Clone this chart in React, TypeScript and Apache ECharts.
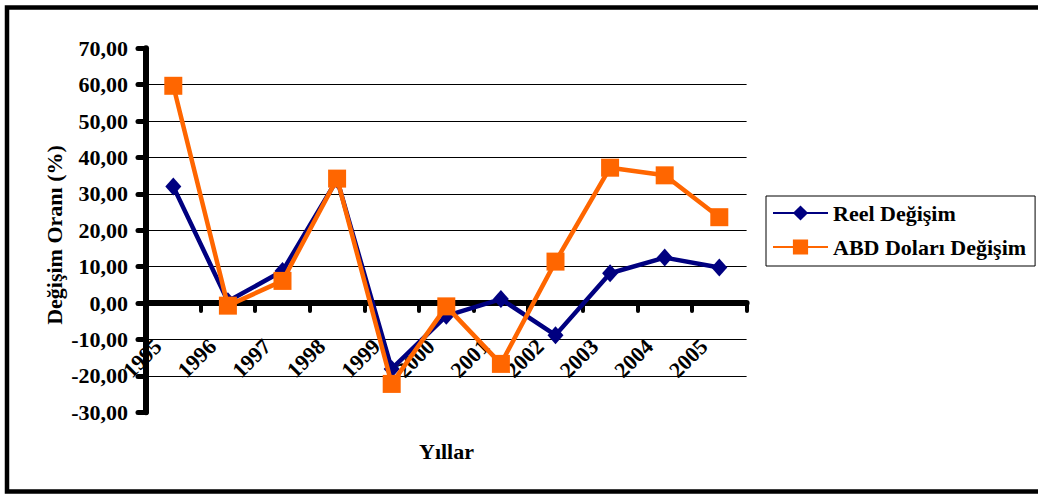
import React, { useEffect, useRef } from "react";
import * as echarts from "echarts";

const years = ["1995", "1996", "1997", "1998", "1999", "2000", "2001", "2002", "2003", "2004", "2005"];
const reelDegisim = [32.0, 0.5, 8.8, 33.9, -18.1, -3.5, 1.1, -8.8, 8.2, 12.5, 9.8];
const abdDolariDegisim = [59.7, -0.7, 6.1, 34.2, -22.2, -0.9, -16.7, 11.4, 37.2, 35.1, 23.6];
const yMin = -30;
const yMax = 70;
const yStep = 10;

const FONT = "'Liberation Serif', 'Times New Roman', serif";

const GRID_TOP = 48.3;
const GRID_HEIGHT = 364;

export default function App() {
  const ref = useRef<HTMLDivElement>(null);

  useEffect(() => {
    if (!ref.current) return;
    const chart = echarts.init(ref.current, undefined, { renderer: "svg" });
    const textBase = { fontFamily: FONT, fontWeight: "bold" as const, fontSize: 22, color: "#000" };
    const nTicks = (yMax - yMin) / yStep + 1;
    const splitColors = Array.from({ length: nTicks }, (_, i) =>
      i === 0 || i === nTicks - 1 ? "rgba(0,0,0,0)" : "#000"
    );
    // distance from the bottom of the grid up to the value 0
    const zeroOffset = (GRID_HEIGHT * (0 - yMin)) / (yMax - yMin);
    chart.setOption({
      animation: false,
      backgroundColor: "#fff",
      grid: { left: 146, top: GRID_TOP, width: 600.6, height: GRID_HEIGHT, outerBoundsMode: "none", containLabel: false },
      xAxis: {
        type: "category",
        data: years,
        boundaryGap: true,
        position: "bottom",
        offset: -zeroOffset,
        axisLine: { show: true, onZero: false, lineStyle: { color: "#000", width: 6, cap: "round" } },
        axisTick: { show: true, alignWithLabel: false, length: 8, lineStyle: { color: "#000", width: 4, cap: "round" } },
        axisLabel: { ...textBase, rotate: 45, interval: 0, margin: 24, padding: [0, 22, 0, 0] },
        splitLine: { show: false },
      },
      yAxis: {
        type: "value",
        min: yMin,
        max: yMax,
        interval: yStep,
        axisLine: { show: true, lineStyle: { color: "#000", width: 6, cap: "round" } },
        axisTick: { show: true, inside: false, length: 8, lineStyle: { color: "#000", width: 5, cap: "round" } },
        axisLabel: {
          ...textBase,
          margin: 18,
          formatter: (v: number) => v.toFixed(2).replace(".", ","),
        },
        splitLine: { show: true, lineStyle: { color: splitColors, width: 1 } },
      },
      legend: {
        orient: "vertical",
        left: 766,
        top: 196,
        padding: [6, 9, 8, 6],
        itemGap: 12,
        itemWidth: 55,
        itemHeight: 19,
        backgroundColor: "#fff",
        borderColor: "#000",
        borderWidth: 1,
        borderRadius: 0,
        textStyle: { ...textBase },
        data: ["Reel Değişim", "ABD Doları Değişim"],
      },
      graphic: [
        {
          type: "rect",
          silent: true,
          shape: { x: 7, y: 7.5, width: 1045, height: 484 },
          style: { fill: "none", stroke: "#000", lineWidth: 4.5 },
        },
        {
          type: "text",
          x: 54,
          y: 235,
          rotation: Math.PI / 2,
          style: {
            text: "Değişim Oranı (%)",
            align: "center",
            verticalAlign: "middle",
            fontFamily: FONT,
            fontWeight: "bold",
            fontSize: 22,
            fill: "#000",
          },
        },
        {
          type: "text",
          x: 446.5,
          y: 451,
          style: {
            text: "Yıllar",
            align: "center",
            verticalAlign: "middle",
            fontFamily: FONT,
            fontWeight: "bold",
            fontSize: 22,
            fill: "#000",
          },
        },
      ],
      series: [
        {
          name: "Reel Değişim",
          type: "line",
          data: reelDegisim,
          symbol: "diamond",
          symbolSize: [16, 18],
          lineStyle: { color: "#000080", width: 4.5 },
          itemStyle: { color: "#000080" },
          z: 2,
        },
        {
          name: "ABD Doları Değişim",
          type: "line",
          data: abdDolariDegisim,
          symbol: "rect",
          symbolSize: 18,
          lineStyle: { color: "#FF6600", width: 4.5 },
          itemStyle: { color: "#FF6600" },
          z: 3,
        },
      ],
    });
    return () => chart.dispose();
  }, []);

  return (
    <div
      ref={ref}
      style={{ position: "fixed", left: 0, top: 0, width: 1038, height: 494, background: "#fff" }}
    />
  );
}
